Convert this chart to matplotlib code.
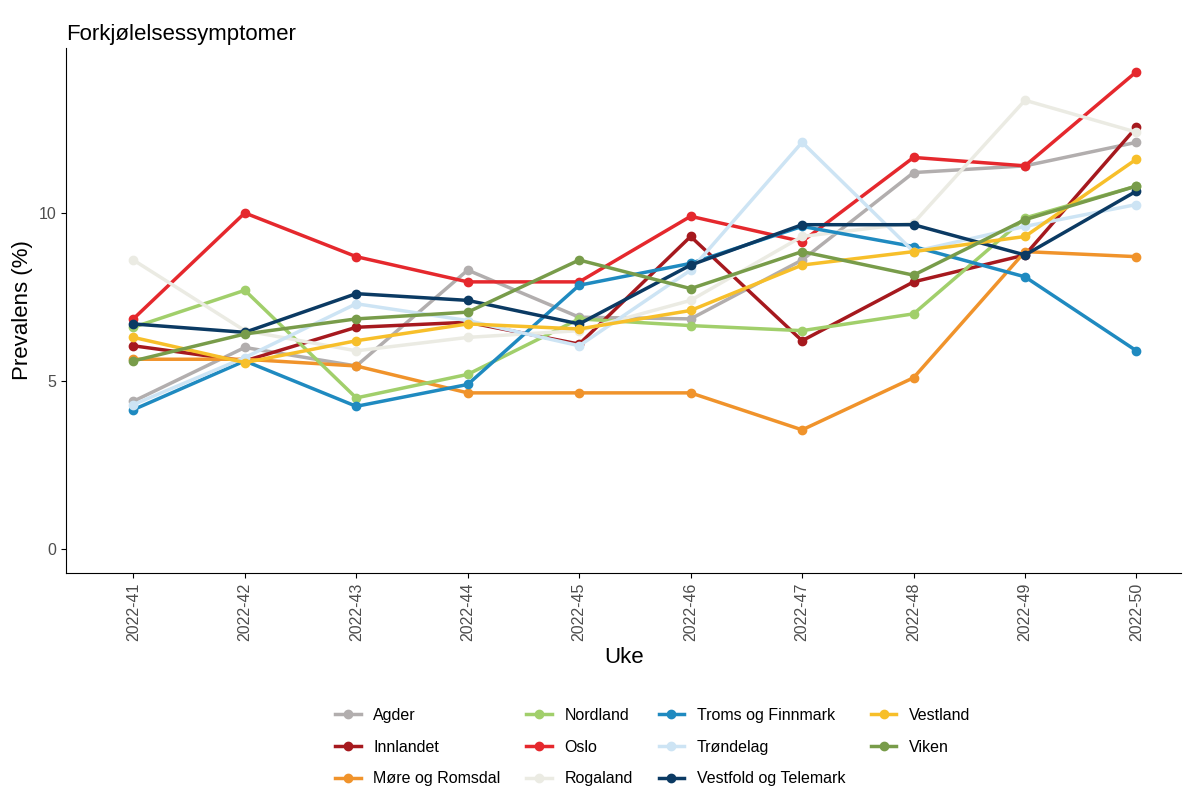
import matplotlib
matplotlib.use("Agg")
import matplotlib.pyplot as plt
plt.rcParams['font.family'] = ['Liberation Sans', 'DejaVu Sans']

weeks = ["2022-41","2022-42","2022-43","2022-44","2022-45","2022-46","2022-47","2022-48","2022-49","2022-50"]
agder = [4.4,6.0,5.45,8.3,6.9,6.85,8.6,11.2,11.4,12.1]
innlandet = [6.05,5.6,6.6,6.75,6.1,9.3,6.2,7.95,8.75,12.55]
more = [5.65,5.65,5.45,4.65,4.65,4.65,3.55,5.1,8.85,8.7]
nordland = [6.6,7.7,4.5,5.2,6.85,6.65,6.5,7.0,9.85,10.8]
oslo = [6.85,10.0,8.7,7.95,7.95,9.9,9.15,11.65,11.4,14.2]
rogaland = [8.6,6.5,5.9,6.3,6.5,7.4,9.3,9.7,13.35,12.4]
troms = [4.15,5.6,4.25,4.9,7.85,8.5,9.6,9.0,8.1,5.9]
trondelag = [4.3,5.7,7.3,6.8,6.05,8.3,12.1,8.85,9.6,10.25]
vestfold = [6.7,6.45,7.6,7.4,6.7,8.45,9.65,9.65,8.75,10.65]
vestland = [6.3,5.55,6.2,6.7,6.55,7.1,8.45,8.85,9.3,11.6]
viken = [5.6,6.4,6.85,7.05,8.6,7.75,8.85,8.15,9.8,10.8]

series = [("Agder",agder,"#b2aeae"),("Innlandet",innlandet,"#a6191e"),
          ("Møre og Romsdal",more,"#f0932b"),("Nordland",nordland,"#a1cf6b"),
          ("Oslo",oslo,"#e5282d"),("Rogaland",rogaland,"#ebebe3"),
          ("Troms og Finnmark",troms,"#1f8ac0"),("Trøndelag",trondelag,"#cde4f4"),
          ("Vestfold og Telemark",vestfold,"#0b3a63"),("Vestland",vestland,"#f7bf2a"),
          ("Viken",viken,"#789c4a")]

fig = plt.figure(figsize=(11.87,7.89), dpi=100)
ax = fig.add_axes([0.056,0.274,0.939,0.665])
x = list(range(len(weeks)))
for name, vals, c in series:
    ax.plot(x, vals, color=c, lw=2.5, marker="o", ms=6, label=name)
ax.set_xlim(-0.6, 9.4)
ax.set_ylim(-0.7, 14.9)
ax.set_yticks([0,5,10])
ax.set_xticks(x)
ax.set_xticklabels(weeks, rotation=90, fontsize=11.5, color="#4d4d4d")
ax.tick_params(axis="y", labelsize=11.5, labelcolor="#4d4d4d")
for s in ["top","right"]:
    ax.spines[s].set_visible(False)
ax.set_xlabel("Uke", fontsize=16)
ax.set_ylabel("Prevalens (%)", fontsize=16)
ax.set_title("Forkjølelsessymptomer", loc="left", fontsize=16)
fig.legend(*ax.get_legend_handles_labels(), ncol=4, loc="center", bbox_to_anchor=(0.55,0.053),
           frameon=False, fontsize=11.5, handlelength=1.6, handletextpad=0.8,
           columnspacing=1.6, labelspacing=1.05)
fig.savefig("out.png")
